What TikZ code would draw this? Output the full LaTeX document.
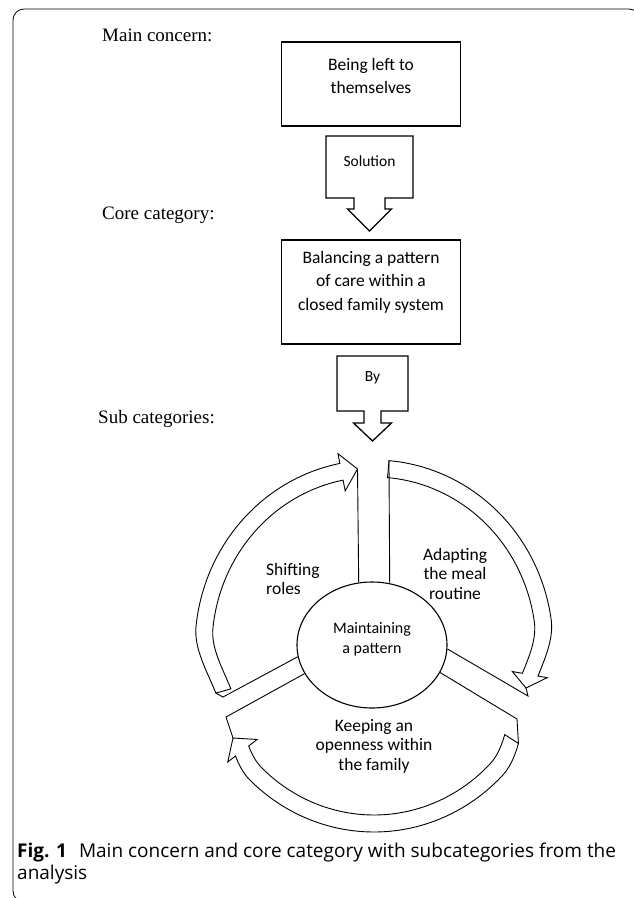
\documentclass[tikz,border=0pt]{standalone}
\usepackage{fontspec}
\setmainfont{Liberation Serif}
\newfontfamily\calfont{Carlito}
\newfontfamily\capfont{Open Sans}
\usetikzlibrary{shapes.geometric,positioning}

\begin{document}
\begin{tikzpicture}[
    x=1pt, y=-1pt,
    box/.style={rectangle, draw, line width=1.4pt, minimum width=179pt, inner sep=0pt},
    boxtext/.style={align=center, inner sep=0pt, font=\calfont\fontsize{17.5}{23.5}\selectfont},
    callout/.style={draw, line width=1.3pt},
    calltext/.style={inner sep=0pt, font=\calfont\fontsize{15.5}{18}\selectfont},
    cattext/.style={anchor=base west, inner sep=0pt, font=\fontsize{19}{23}\selectfont},
    segtext/.style={align=center, inner sep=0pt, font=\calfont\fontsize{17.5}{19.5}\selectfont},
    band/.style={draw, line width=0.9pt},
    spoke/.style={draw, line width=0.9pt},
    captext/.style={anchor=north west, align=left, inner sep=0pt, font=\capfont\fontsize{19}{22}\selectfont},
    declare function={
      ringS(\u)=1-0.085*pow(max(0,1-((\u-18)/26)^2),2)-0.085*pow(max(0,1-((\u-160)/26)^2),2);
      ringx(\u,\a)=374+\a*ringS(\u)*cos(\u);
      ringy(\u,\b)=646+\b*ringS(\u)*sin(\u);
    }
  ]
    \useasboundingbox (0,0) rectangle (634,898);
    % Frame
    \draw[rounded corners=11pt, line width=0.8pt] (13,9) rectangle (640,902);

    % Category labels
    \node[cattext] (mainlbl) at (102,41) {Main concern:};
    \node[cattext] (corelbl) at (102,219) {Core category:};
    \node[cattext] (sublbl) at (98,423) {Sub categories:};

    % Boxes
    \node[box, minimum height=84pt] (concern) at (371,84) {};
    \node[boxtext] (concerntxt) at ([yshift=8pt]concern.center) {Being left to\\themselves};
    \node[box, minimum height=104pt] (core) at (371,292) {};
    \node[boxtext] (coretxt) at ([yshift=10pt]core.center) {Balancing a pattern\\of care within a\\closed family system};

    % Callout arrows
    \draw[callout] (326,136) -- (413,136) -- (413,198) -- (385,198) -- (385,209) -- (391.5,209)
      -- (369.5,231) -- (347.5,209) -- (354,209) -- (354,198) -- (326,198) -- cycle;
    \node[calltext] (soltxt) at (369.5,161) {Solution};
    \draw[callout] (337,356) -- (408,356) -- (408,411) -- (381,411) -- (381,423) -- (391.5,423)
      -- (372.5,441) -- (353.5,423) -- (364,423) -- (364,411) -- (337,411) -- cycle;
    \node[calltext] (bytxt) at (372.5,378) {By};

    % Centre
    \node[ellipse, draw, line width=1.1pt, minimum width=150pt, minimum height=126pt, inner sep=0pt] (pat) at (372,645) {};
    \node[segtext, font=\calfont\fontsize{16}{20}\selectfont] (pattxt) at ([yshift=6pt]pat.center) {Maintaining\\a pattern};

    % Band end points
    \coordinate (lbtip) at (357.5,469);
    \coordinate (rbtip) at (526,688);
    \coordinate (bbtip) at (233,738);
    \coordinate (rbstart) at ({ringx(-85.2,179)},{ringy(-85.2,186)});
    \coordinate (bbstart) at ({ringx(33,179)},{ringy(33,186)});
    \coordinate (lbstart) at ({ringx(164,179)},{ringy(164,186)});
    \coordinate (rsup) at (528,696);
    \coordinate (rslo) at (517,719);
    \coordinate (lsup) at (223,697);
    \coordinate (lslo) at (226,717);

    % Bands
    \draw[band] plot[variable=\t, domain=-85.2:10, samples=60] ({ringx(\t,179)},{ringy(\t,186)})
      -- ({ringx(10,189)},{ringy(10,196)}) -- (rbtip) -- ({ringx(10,151)},{ringy(10,158)})
      -- plot[variable=\t, domain=10:-85.2, samples=60] ({ringx(\t,162)},{ringy(\t,169)}) -- cycle;
    \draw[band] plot[variable=\t, domain=33:142.6, samples=60] ({ringx(\t,179)},{ringy(\t,186)})
      -- ({ringx(142.6,189)},{ringy(142.6,196)}) -- (bbtip) -- ({ringx(142.6,151)},{ringy(142.6,158)})
      -- plot[variable=\t, domain=142.6:33, samples=60] ({ringx(\t,162)},{ringy(\t,169)}) -- cycle;
    \draw[band] plot[variable=\t, domain=164:259, samples=60] ({ringx(\t,179)},{ringy(\t,186)})
      -- ({ringx(259,189)},{ringy(259,196)}) -- (lbtip) -- ({ringx(259,151)},{ringy(259,158)})
      -- plot[variable=\t, domain=259:164, samples=60] ({ringx(\t,162)},{ringy(\t,169)}) -- cycle;

    % Spokes
    \draw[spoke] (pat.102.7) -- (lbtip);
    \draw[spoke] (pat.74.5) -- (rbstart);
    \draw[spoke] (pat.-3.8) -- (rsup) -- (rbtip);
    \draw[spoke] (pat.-22.4) -- (rslo) -- (bbstart);
    \draw[spoke] (pat.189.1) -- (lsup) -- (lbstart);
    \draw[spoke] (pat.203.5) -- (lslo) -- (bbtip);

    % Segment labels
    \node[segtext, align=left, anchor=west] (shifttxt) at (266,579) {Shifting\\roles};
    \node[segtext] (adapttxt) at (455,573.5) {Adapting\\the meal\\routine};
    \node[segtext] (keeptxt) at (374,746) {Keeping an\\openness within\\the family};

    % Caption
    \node[captext] (caption) at (17,843) {\textbf{Fig. 1}\hspace{12pt}Main concern and core category with subcategories from the\\analysis};
  \end{tikzpicture}
\end{document}
